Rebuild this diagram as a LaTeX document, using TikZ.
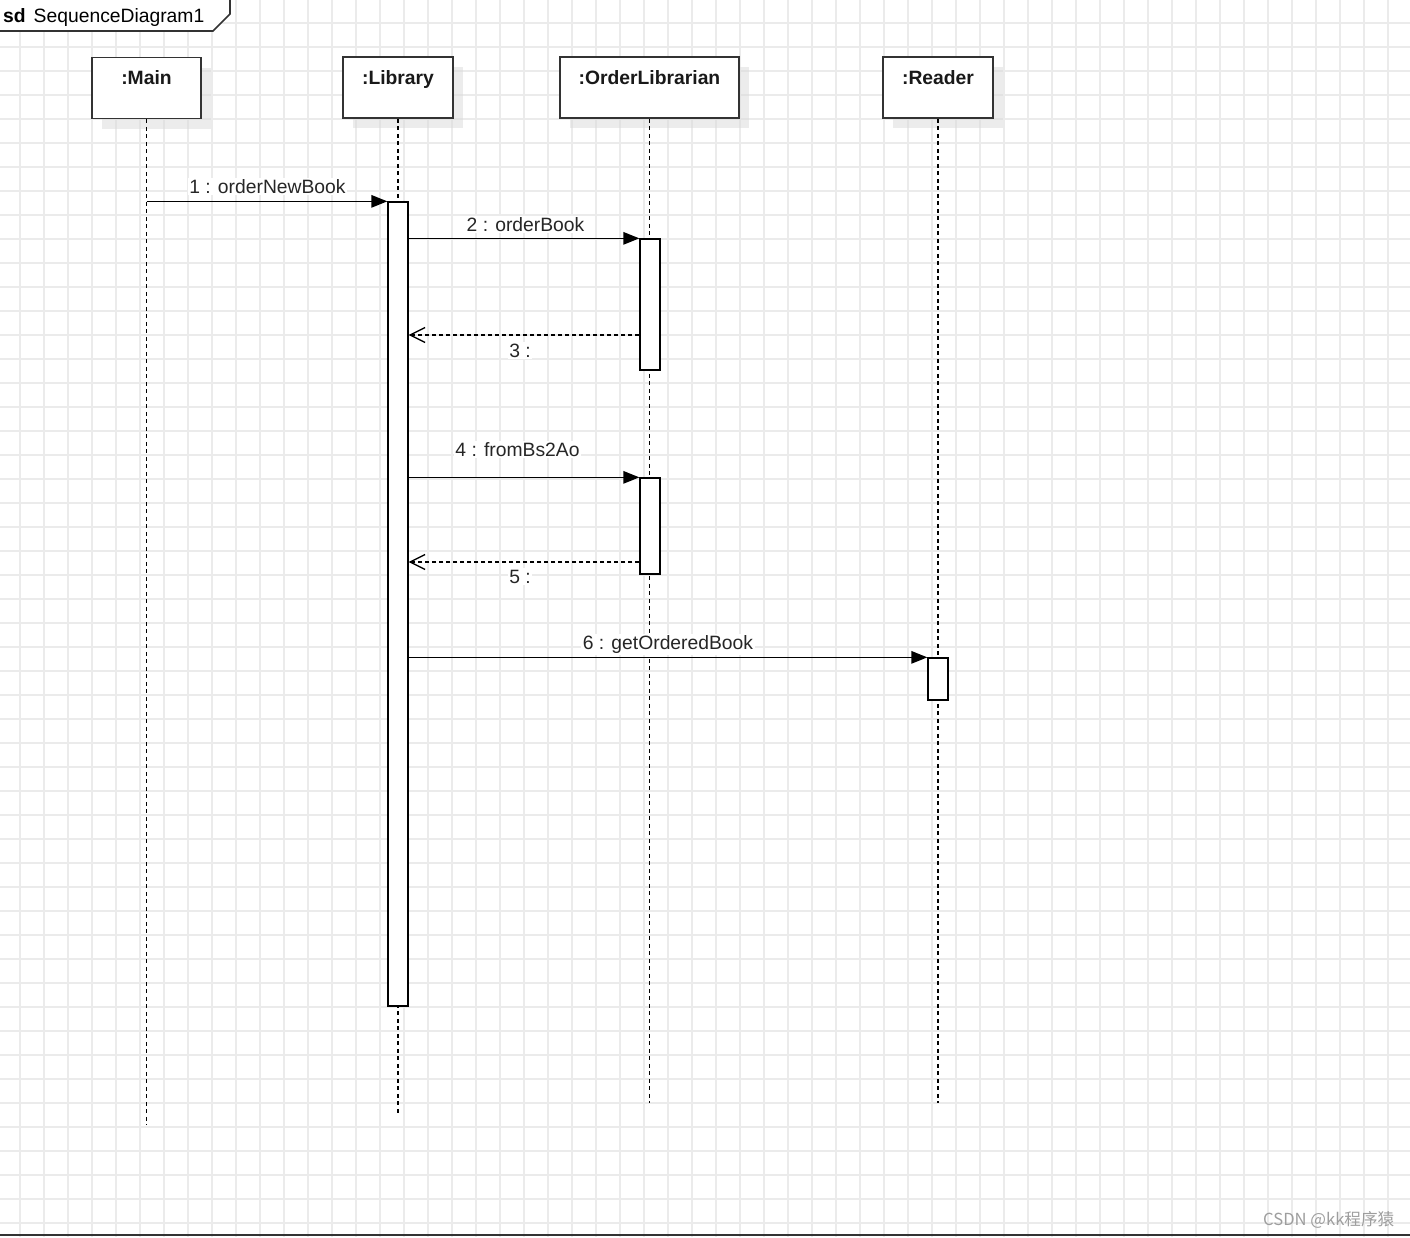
\documentclass[tikz,border=0pt]{standalone}
\usepackage{fontspec}
\setmainfont{Liberation Sans}
\newfontfamily\cjk{Noto Sans CJK SC}
\usetikzlibrary{arrows.meta,shadows}
\definecolor{gridc}{HTML}{EBEBEB}
\definecolor{ink}{HTML}{333333}
\begin{document}
\begin{tikzpicture}[x=1pt,y=-1pt,
  gridline/.style={draw=gridc, line width=1.6pt},
  obj/.style={draw=ink, line width=1.6pt, fill=white, minimum height=61pt, inner sep=0pt,
    drop shadow={shadow xshift=10pt, shadow yshift=-10pt, opacity=0.5, fill=black!14}},
  objtxt/.style={font=\fontsize{19.3}{22}\selectfont\bfseries, text=black!90, anchor=base, inner sep=0pt},
  lbl/.style={font=\fontsize{19.3}{22}\selectfont, text=black!85, fill=white, inner sep=1.5pt, anchor=base},
  life/.style={draw=black, line width=1.5pt, dash pattern=on 4pt off 3.5pt},
  act/.style={draw=black, line width=1.3pt, fill=white, minimum width=20pt, inner sep=0pt},
  msg/.style={draw=black, line width=1.3pt, -{Triangle[length=16pt,width=12.5pt]}},
  ret/.style={draw=black, line width=1.3pt, dash pattern=on 4pt off 3pt, -{Straight Barb[length=15pt,width=15pt,line width=1.3pt]}}
]
\useasboundingbox (0,0) rectangle (1410,1237);
\fill[white] (0,0) rectangle (1410,1237);
\begin{scope}
\clip (0,0) rectangle (1410,1237);
% grid
\foreach \x in {20,44,...,1412} \draw[gridline] (\x,0) -- (\x,1237);
\foreach \y in {23,47,...,1223} \draw[gridline] (0,\y) -- (1410,\y);
% frame
\fill[white] (-2,-2) -- (-2,31) -- (213,31) -- (230,14) -- (230,-2) -- cycle;
\draw[ink, line width=1.6pt] (-2,31) -- (213,31) -- (230,14) -- (230,-2);
\node[font=\fontsize{19.3}{22}\selectfont, anchor=base west, inner sep=0pt] (frm) at (3,22) {\textbf{sd}\hspace{8pt}SequenceDiagram1};
% bottom line
\draw[ink, line width=2pt] (0,1235) -- (1410,1235);
\end{scope}

% objects
\node[obj, minimum width=109pt] (m) at (146.5,88) {};
\node[obj, minimum width=110pt] (l) at (398,87.5) {};
\node[obj, minimum width=179pt] (o) at (649.5,87.5) {};
\node[obj, minimum width=110pt] (r) at (938,87.5) {};
\node[objtxt] (mt) at (m.north |- 0,84) {:Main};
\node[objtxt] (lt) at (l.north |- 0,84) {:Library};
\node[objtxt] (ot) at (o.north |- 0,84) {:OrderLibrarian};
\node[objtxt] (rt) at (r.north |- 0,84) {:Reader};

% lifeline ends
\coordinate (me) at (m.south |- 0,1125);
\coordinate (le) at (l.south |- 0,1115);
\coordinate (oe) at (o.south |- 0,1103);
\coordinate (re) at (r.south |- 0,1103);
\draw[life] (m.south) -- (me);
\draw[life] (l.south) -- (le);
\draw[life] (o.south) -- (oe);
\draw[life] (r.south) -- (re);

% activations
\node[act, minimum height=804pt] (aL) at (398,604) {};
\node[act, minimum height=131pt] (aO1) at (650,304.5) {};
\node[act, minimum height=96pt] (aO2) at (650,526) {};
\node[act, minimum height=42pt] (aR) at (938,679) {};

% messages
\coordinate (m1) at (m.south |- aL.north);
\draw[msg] (m1) -- (aL.north west);
\node[lbl] (t1) at (267.5,193) {1 : orderNewBook};

\draw[msg] (aL.east |- aO1.north) -- (aO1.north west);
\node[lbl] (t2) at (525.5,231) {2 : orderBook};

\coordinate (y3) at (0,335);
\draw[ret] (aO1.west |- y3) -- (aL.east |- y3);
\node[lbl] (t3) at (520,357) {3 :};

\draw[msg] (aL.east |- aO2.north) -- (aO2.north west);
\node[lbl] (t4) at (517.5,456) {4 : fromBs2Ao};

\coordinate (y5) at (0,562);
\draw[ret] (aO2.west |- y5) -- (aL.east |- y5);
\node[lbl] (t5) at (520,583) {5 :};

\draw[msg] (aL.east |- aR.north) -- (aR.north west);
\node[lbl] (t6) at (668,649) {6 : getOrderedBook};

% watermark
\node[font=\cjk\fontsize{16.6}{19}\selectfont, text=black!38, anchor=base west, inner sep=0pt] (wm) at (1263,1225) {CSDN @kk程序猿};
\end{tikzpicture}
\end{document}
